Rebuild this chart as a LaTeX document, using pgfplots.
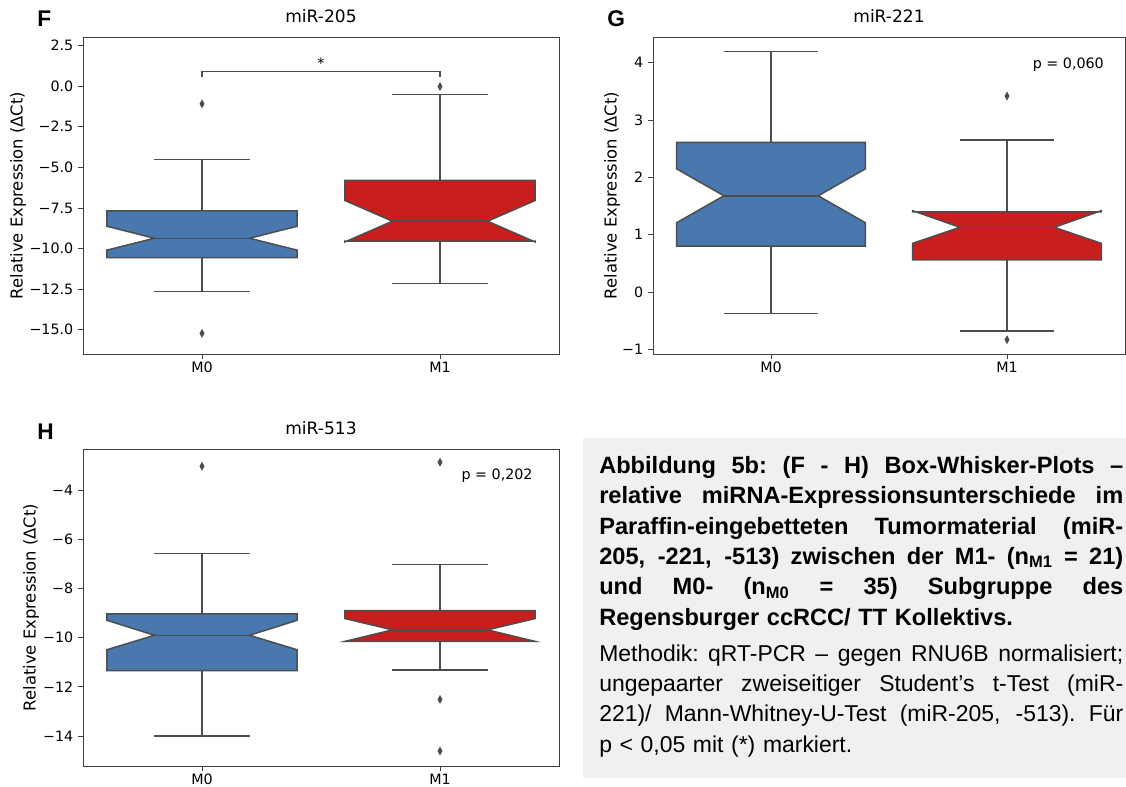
\documentclass[border=0pt]{standalone}
\usepackage{fontspec}
\setmainfont{DejaVu Sans}
\newfontfamily\capfont{Liberation Sans}
\usepackage{pgfplots}
\pgfplotsset{compat=1.18}

\definecolor{boxblue}{RGB}{72,120,173}
\definecolor{boxred}{RGB}{200,30,30}
\definecolor{edgegray}{RGB}{77,77,77}
\definecolor{capbg}{RGB}{240,240,240}

% notched box: #1 centre, #2 lower whisker, #3 Q1, #4 lower notch, #5 median,
% #6 upper notch, #7 Q3, #8 upper whisker, #9 fill colour
\newcommand{\notchbox}[9]{%
  \pgfmathsetmacro{\bL}{#1-0.4}\pgfmathsetmacro{\bR}{#1+0.4}%
  \pgfmathsetmacro{\nL}{#1-0.2}\pgfmathsetmacro{\nR}{#1+0.2}%
  \edef\doplots{%
    \noexpand\addplot[boxedge, fill=#9] coordinates {(\bL,#3) (\bR,#3) (\bR,#4) (\nR,#5) (\bR,#6) (\bR,#7) (\bL,#7) (\bL,#6) (\nL,#5) (\bL,#4)} -- cycle;
    \noexpand\addplot[boxedge] coordinates {(\nL,#5) (\nR,#5)};
    \noexpand\addplot[boxedge] coordinates {(#1,#3) (#1,#2)};
    \noexpand\addplot[boxedge] coordinates {(#1,#7) (#1,#8)};
    \noexpand\addplot[boxedge] coordinates {(\nL,#2) (\nR,#2)};
    \noexpand\addplot[boxedge] coordinates {(\nL,#8) (\nR,#8)};
  }\doplots
}

% one justified caption line: all word spaces stretch equally
\newcommand{\jline}[1]{\makebox[393pt][s]{\spaceskip=0.25em plus 1fill\xspaceskip=\spaceskip #1}}
\newcommand{\capbold}{\bfseries\fontsize{17.7}{22.8}\selectfont}

\pgfplotsset{
  boxedge/.style={draw=edgegray, line width=1.1pt},
  outlier/.style={only marks, mark=diamond*, mark size=2.9pt,
    mark options={fill=edgegray, draw=edgegray, xscale=0.75}},
  panel/.style={
    scale only axis, anchor=north west,
    height=237.75pt,
    xmin=-0.5, xmax=1.5, xtick={0,1}, xticklabels={M0,M1},
    axis line style={black!75, line width=0.6pt},
    tick style={black!75, line width=0.6pt},
    tick align=outside, major tick length=3.8pt,
    xtick pos=bottom, ytick pos=left,
    ticklabel style={font=\fontsize{10.7}{12}\selectfont},
    xticklabel style={inner sep=1pt, yshift=-1pt},
    ylabel={Relative Expression (ΔCt)},
    title style={at={(0.5,1)}, anchor=base, yshift=5pt, font=\fontsize{12.8}{14}\selectfont},
  },
}

\begin{document}
\begin{tikzpicture}
\useasboundingbox (0,0) rectangle (844.5pt,-590.25pt);

% caption panel
\fill[capbg] (437.25pt,-328.5pt) rectangle (844.5pt,-583.5pt);

% panel letters
\node[anchor=base west, inner sep=0, font=\capfont\bfseries\fontsize{17}{17}\selectfont] at (27.75pt,-20.25pt) {F};
\node[anchor=base west, inner sep=0, font=\capfont\bfseries\fontsize{17}{17}\selectfont] at (455.25pt,-20.25pt) {G};
\node[anchor=base west, inner sep=0, font=\capfont\bfseries\fontsize{17}{17}\selectfont] at (27.75pt,-329.25pt) {H};

% ---------- miR-205 ----------
\begin{axis}[panel, at={(62.25pt,-27.75pt)}, width=357pt,
  title={miR-205},
  ymin=-16.5, ymax=3.03,
  ytick={-15,-12.5,-10,-7.5,-5,-2.5,0,2.5},
  yticklabels={−15.0,−12.5,−10.0,−7.5,−5.0,−2.5,0.0,2.5},
  ylabel style={at={(rel axis cs:-0.1366,0.5)}, anchor=center, font=\fontsize{12.3}{14}\selectfont},
]
\notchbox{0}{-12.66}{-10.57}{-10.10}{-9.37}{-8.63}{-7.68}{-4.53}{boxblue}
\notchbox{1}{-12.15}{-9.55}{-9.60}{-8.32}{-7.04}{-5.80}{-0.51}{boxred}
\addplot[outlier] coordinates {(0,-1.09) (0,-15.23) (1,-0.02)};
% significance bracket
\addplot[draw=edgegray, line width=0.9pt] coordinates {(0,0.56) (0,0.92) (1,0.92) (1,0.56)};
\node[anchor=base, font=\fontsize{10.7}{12}\selectfont] at (axis cs:0.5,1.1) {*};
\end{axis}

% ---------- miR-221 ----------
\begin{axis}[panel, at={(489.75pt,-27.75pt)}, width=354pt,
  title={miR-221},
  ymin=-1.08, ymax=4.45,
  ytick={-1,0,1,2,3,4},
  yticklabels={−1,0,1,2,3,4},
  ylabel style={at={(rel axis cs:-0.0869,0.5)}, anchor=center, font=\fontsize{12.3}{14}\selectfont},
]
\notchbox{0}{-0.37}{0.80}{1.21}{1.68}{2.15}{2.61}{4.20}{boxblue}
\notchbox{1}{-0.68}{0.56}{0.85}{1.13}{1.42}{1.40}{2.65}{boxred}
\addplot[outlier] coordinates {(1,3.42) (1,-0.83)};
\node[font=\fontsize{10.7}{12}\selectfont] at (axis cs:1.26,3.97) {p = 0,060};
\end{axis}

% ---------- miR-513 ----------
\begin{axis}[panel, at={(62.25pt,-336.75pt)}, width=357pt,
  title={miR-513},
  ymin=-15.22, ymax=-2.32,
  ytick={-14,-12,-10,-8,-6,-4},
  yticklabels={−14,−12,−10,−8,−6,−4},
  ylabel style={at={(rel axis cs:-0.109,0.5)}, anchor=center, font=\fontsize{12.3}{14}\selectfont},
]
\notchbox{0}{-14.00}{-11.34}{-10.49}{-9.90}{-9.29}{-9.03}{-6.57}{boxblue}
\notchbox{1}{-11.31}{-10.15}{-10.15}{-9.68}{-9.22}{-8.90}{-7.03}{boxred}
\addplot[outlier] coordinates {(0,-3.02) (1,-2.86) (1,-12.51) (1,-14.61)};
\node[font=\fontsize{10.7}{12}\selectfont] at (axis cs:1.24,-3.40) {p = 0,202};
\end{axis}

% caption text
\node[anchor=base west, inner sep=0, text width=393pt, align=left,
      font=\capfont\fontsize{17.2}{22.8}\selectfont] at (449.25pt,-355pt) {%
\jline{\capbold Abbildung 5b: (F - H) Box-Whisker-Plots –}\\
\jline{\capbold relative miRNA-Expressionsunterschiede im}\\
\jline{\capbold Paraffin-eingebetteten Tumormaterial (miR-}\\
\jline{\capbold 205, -221, -513) zwischen der M1- (n\textsubscript{M1} = 21)}\\
\jline{\capbold und M0- (n\textsubscript{M0} = 35) Subgruppe des}\\
{\capbold Regensburger ccRCC/ TT Kollektivs.}\\[4pt]
\jline{Methodik: qRT-PCR – gegen RNU6B normalisiert;}\\
\jline{ungepaarter zweiseitiger Student’s t-Test (miR-}\\
\jline{221)/ Mann-Whitney-U-Test (miR-205, -513). Für}\\
p < 0,05 mit (*) markiert.};
\end{tikzpicture}
\end{document}
